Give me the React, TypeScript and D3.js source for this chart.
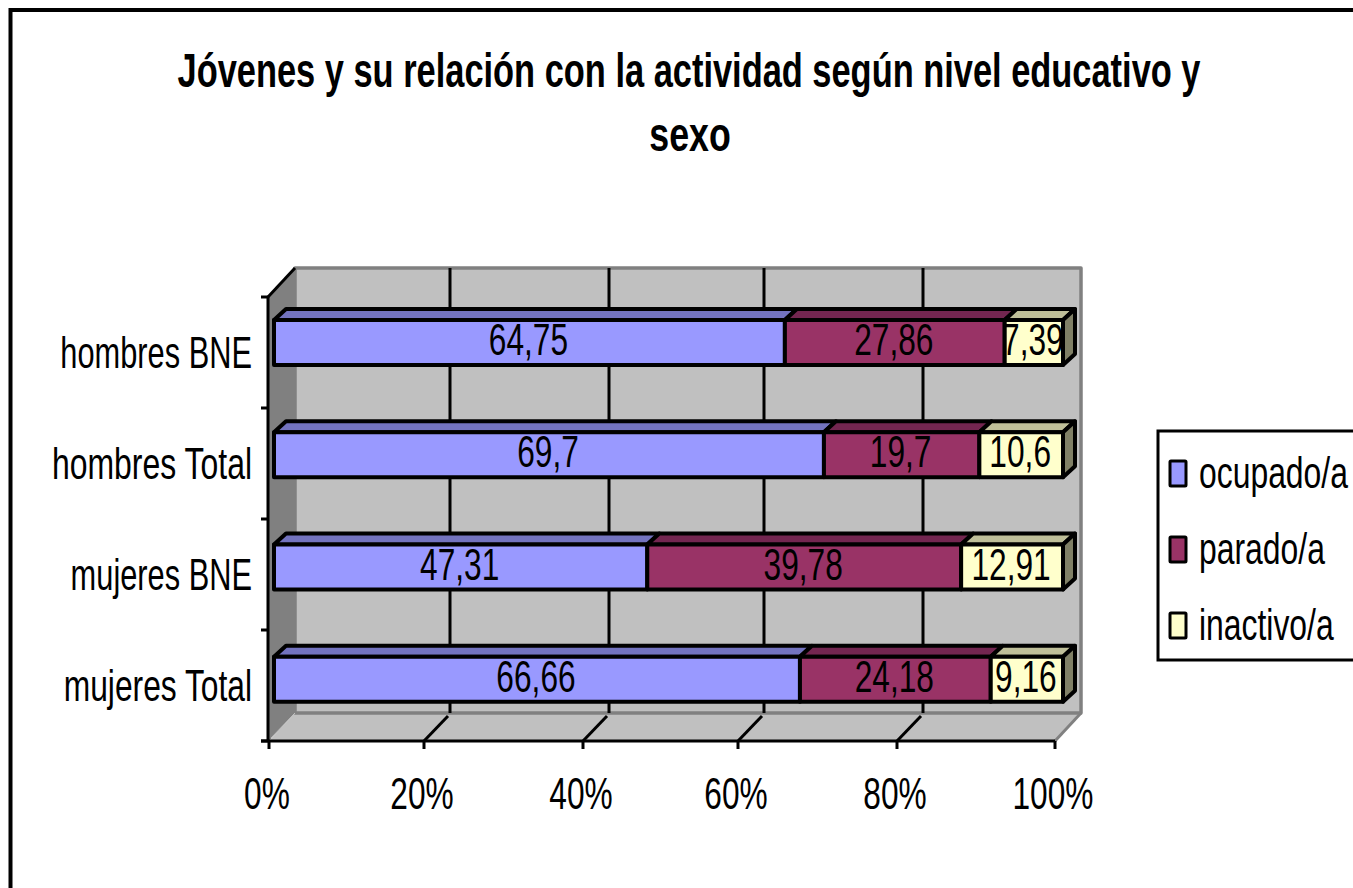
import React from "react";
import * as d3 from "d3";

const categories = ["hombres BNE", "hombres Total", "mujeres BNE", "mujeres Total"];
const seriesNames = ["ocupado/a", "parado/a", "inactivo/a"];
const ocupado = [64.75, 69.7, 47.31, 66.66];
const parado = [27.86, 19.7, 39.78, 24.18];
const inactivo = [7.39, 10.6, 12.91, 9.16];
const labelOcupado = ["64,75", "69,7", "47,31", "66,66"];
const labelParado = ["27,86", "19,7", "39,78", "24,18"];
const labelInactivo = ["7,39", "10,6", "12,91", "9,16"];
const xTicks = [0, 20, 40, 60, 80, 100];
const colors = ["#9999FF", "#993366", "#FFFFCC"];
const topColors = ["#7373BF", "#732650", "#BFBF99"];
const sideColor = "#808066";

const FONT = "'Liberation Sans', Arial, sans-serif";

function T({ x, y, size, sx, anchor = "middle", bold = false, children }: any) {
  return (
    <text
      transform={`translate(${x},${y}) scale(${sx},1)`}
      fontFamily={FONT}
      fontSize={size}
      fontWeight={bold ? 700 : 400}
      textAnchor={anchor}
      fill="#000"
    >
      {children}
    </text>
  );
}

export default function App() {
  const axisX = d3.scaleLinear().domain(xTicks).range([269, 424, 583, 738, 897, 1055]);
  const barX = d3.scaleLinear().domain([0, 100]).range([274, 1063]);
  const rowTick = d3.scaleLinear().domain([0, 4]).range([297, 741]);
  const rowY = d3.scaleBand().domain(categories).range([320, 769]).paddingInner(0).paddingOuter(0);
  const catScale = [0.7, 0.726, 0.7, 0.722];
  const barH = 45;
  const wallDx = 26;
  const wallDy = 28;
  const barDx = 12;
  const barDy = 11;
  const backTop = 268;
  const floorY = 741;
  const series = [ocupado, parado, inactivo];
  const labels = [labelOcupado, labelParado, labelInactivo];
  const stack = d3.stack<number>().keys(["0", "1", "2"]).value((i, k) => series[+k][i]);
  const stacked = stack(categories.map((_, i) => i));
  const x0 = axisX(0);
  const x1 = axisX(100);

  return (
    <svg width={1353} height={888} style={{ position: "absolute", left: 0, top: 0, display: "block", background: "#fff" }}>
      <path d="M10.5 888V10H1353" fill="none" stroke="#000" strokeWidth={4} />

      <T x={689} y={87} size={48} sx={0.717} bold>Jóvenes y su relación con la actividad según nivel educativo y</T>
      <T x={690} y={151} size={48} sx={0.745} bold>sexo</T>

      {/* walls */}
      <polygon points={`${x0},${floorY} ${x0 + wallDx},${floorY - wallDy} ${x0 + wallDx},${backTop} ${x0},${backTop + wallDy}`} fill="#808080" />
      <polygon points={`${x0},${floorY} ${x0 + wallDx},${floorY - wallDy} ${x1 + wallDx},${floorY - wallDy} ${x1},${floorY}`} fill="#C0C0C0" />
      <rect x={x0 + wallDx} y={backTop} width={x1 - x0} height={floorY - wallDy - backTop} fill="#C0C0C0" stroke="#808080" strokeWidth={3.5} strokeLinejoin="round" />
      <line x1={x1} y1={floorY} x2={x1 + wallDx} y2={floorY - wallDy} stroke="#808080" strokeWidth={3} />
      <line x1={x0 + 2} y1={floorY - 3} x2={x0 + wallDx} y2={floorY - wallDy} stroke="#C0C0C0" strokeWidth={1} />

      {/* gridlines */}
      {xTicks.slice(1, -1).map((t) => (
        <g key={t} stroke="#000" strokeWidth={3}>
          <line x1={axisX(t) + wallDx} y1={backTop} x2={axisX(t) + wallDx} y2={floorY - wallDy} />
          <line x1={axisX(t)} y1={floorY} x2={axisX(t) + wallDx - 2} y2={floorY - wallDy + 3} />
        </g>
      ))}

      {/* axes */}
      <line x1={268} y1={297} x2={268} y2={floorY} stroke="#000" strokeWidth={3} />
      <line x1={268} y1={297} x2={x0 + wallDx} y2={backTop} stroke="#000" strokeWidth={3} />
      <line x1={261} y1={floorY} x2={x1} y2={floorY} stroke="#000" strokeWidth={3} />
      {d3.range(5).map((i) => (
        <line key={i} x1={261} x2={268} y1={rowTick(i)} y2={rowTick(i)} stroke="#000" strokeWidth={3} />
      ))}
      {xTicks.map((t) => (
        <g key={t}>
          <line x1={axisX(t)} x2={axisX(t)} y1={floorY} y2={floorY + 8} stroke="#000" strokeWidth={3} />
          <T x={axisX(t) - 2} y={809} size={44} sx={0.72}>{`${t}%`}</T>
        </g>
      ))}

      {/* bars */}
      {categories.map((c, i) => {
        const y = rowY(c)!;
        return (
          <g key={c}>
            {stacked.map((s, k) => {
              const a = barX(s[i][0]);
              const b = barX(s[i][1]);
              return (
                <g key={k} stroke="#000" strokeWidth={4} strokeLinejoin="round">
                  <polygon points={`${a},${y} ${a + barDx},${y - barDy} ${b + barDx},${y - barDy} ${b},${y}`} fill={topColors[k]} />
                  {k === 2 && (
                    <polygon points={`${b},${y} ${b + barDx},${y - barDy} ${b + barDx},${y + barH - barDy} ${b},${y + barH}`} fill={sideColor} />
                  )}
                  <rect x={a} y={y} width={b - a} height={barH} fill={colors[k]} />
                </g>
              );
            })}
            {stacked.map((s, k) => (
              <T key={k} x={(barX(s[i][0]) + barX(s[i][1])) / 2 - 1} y={y + 35} size={44} sx={0.72}>
                {labels[k][i]}
              </T>
            ))}
            <T x={252} y={(rowTick(i) + rowTick(i + 1)) / 2 + 15} size={44} sx={catScale[i]} anchor="end">{c}</T>
          </g>
        );
      })}

      {/* legend */}
      <rect x={1158} y={431} width={240} height={229} fill="#fff" stroke="#000" strokeWidth={3} />
      {seriesNames.map((n, k) => {
        const cy = 474 + k * 76;
        return (
          <g key={n}>
            <rect x={1170} y={cy - 13} width={16} height={25} fill={colors[k]} stroke="#000" strokeWidth={3} rx={1} />
            <T x={1199} y={cy + 14} size={44} sx={0.725} anchor="start">{n}</T>
          </g>
        );
      })}
    </svg>
  );
}
